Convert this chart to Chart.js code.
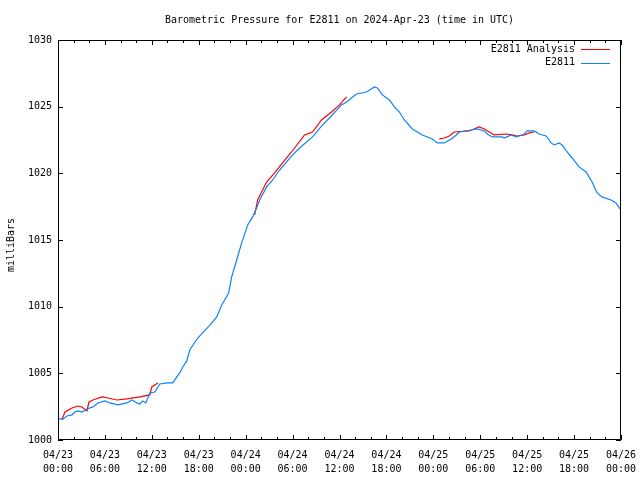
<!DOCTYPE html>
<html>
<head>
<meta charset="utf-8">
<script src="https://cdn.jsdelivr.net/npm/chart.js@4"></script>
<style>
  body { margin: 0; background: #fff; }
  #wrap { width: 640px; height: 480px; }
</style>
</head>
<body>
<div id="wrap"><canvas id="chart" width="640" height="480"></canvas></div>
<script>
// hours since 2024-04-23 00:00 UTC
let stationHours = [0,0.64,1.15,1.79,2.17,2.55,3.06,3.7,4.47,5.11,6.0,6.64,7.66,8.81,9.45,10.09,10.47,10.85,11.23,11.74,
  12.38,13.02,14.04,14.68,15.19,15.57,15.96,16.47,16.85,17.87,19.4,20.3,20.94,21.83,22.21,22.85,23.49,24.26,24.89,25.4,
  25.79,26.68,27.45,28.34,30.0,30.89,32.55,33.83,34.72,36.26,36.9,38.17,39.45,40.47,40.85,41.49,42.38,43.02,43.66,44.3,
  45.32,46.6,47.87,48.51,49.4,50.3,50.94,51.32,52.85,53.62,54.51,54.9,55.53,56.04,56.81,57.06,57.96,58.6,58.98,59.62,
  60.0,60.89,61.53,62.43,63.07,63.45,64.09,64.47,65.11,65.75,66.64,67.53,68.3,68.94,69.57,70.72,71.36,71.87];
let stationPressure = [1001.58,1001.58,1001.8,1001.88,1002.1,1002.18,1002.1,1002.33,1002.48,1002.78,1002.93,1002.78,1002.63,1002.78,1003.0,1002.78,1002.7,1002.93,1002.78,1003.53,
  1003.6,1004.2,1004.28,1004.28,1004.73,1005.03,1005.48,1005.93,1006.75,1007.65,1008.6,1009.23,1010.13,1011.03,1012.23,1013.5,1014.78,1016.13,1016.73,1017.4,
  1018.0,1018.98,1019.5,1020.25,1021.38,1021.9,1022.73,1023.63,1024.15,1025.13,1025.35,1025.95,1026.1,1026.48,1026.4,1025.88,1025.5,1024.98,1024.6,1024.0,
  1023.33,1022.88,1022.58,1022.28,1022.28,1022.58,1022.88,1023.1,1023.25,1023.33,1023.18,1022.95,1022.73,1022.73,1022.73,1022.65,1022.88,1022.73,1022.8,1022.95,
  1023.18,1023.18,1022.95,1022.8,1022.28,1022.13,1022.28,1022.13,1021.6,1021.15,1020.48,1020.1,1019.35,1018.53,1018.23,1018.0,1017.78,1017.33];

let analysisHours = [0.51,0.64,0.89,1.79,2.55,3.06,3.7,3.96,4.47,5.62,6.38,7.53,8.81,10.47,11.74,12.0,12.77,
  19,
  25.15,25.53,26.68,27.7,28.72,29.87,31.53,32.55,33.7,34.98,36.0,36.9,
  42,
  48.77,49.4,50.04,50.68,52.6,53.49,53.87,54.51,55.15,55.79,57.32,58.09,58.72,59.62,60.26,60.89];
let analysisPressure = [1001.5,1001.73,1002.1,1002.4,1002.55,1002.48,1002.18,1002.85,1003.0,1003.23,1003.15,1003.0,1003.08,1003.23,1003.38,1003.98,1004.28,
  null,
  1016.88,1018.0,1019.35,1020.03,1020.78,1021.6,1022.88,1023.1,1024.0,1024.6,1025.13,1025.73,
  null,
  1022.58,1022.65,1022.8,1023.1,1023.18,1023.4,1023.48,1023.33,1023.1,1022.88,1022.95,1022.88,1022.8,1022.88,1023.03,1023.1];

let xTicks = [0, 6, 12, 18, 24, 30, 36, 42, 48, 54, 60, 66, 72];
let yTicks = [1000, 1005, 1010, 1015, 1020, 1025, 1030];

const RED = '#ff0000';
const BLUE = '#0a84f5';

function pts(xs, ys) {
  return xs.map((h, i) => ({ x: h, y: ys[i] }));
}
function pad2(n) { return (n < 10 ? '0' : '') + n; }

Chart.defaults.font.family = "'DejaVu Sans Mono', monospace";
Chart.defaults.font.size = 10;
Chart.defaults.color = '#000';

// box, inward ticks, title, y label, legend
let frame = {
  id: 'frame',
  afterDraw(chart) {
    let ctx = chart.ctx;
    let a = chart.chartArea;
    let xs = chart.scales.x, ys = chart.scales.y;
    ctx.save();
    ctx.strokeStyle = '#000';
    ctx.lineWidth = 1;
    ctx.beginPath();
    ctx.rect(a.left + 0.5, a.top + 0.5, a.right - a.left - 1, a.bottom - a.top - 1);
    for (let h = 0; h <= 72; h += 2) {
      let px = Math.round(xs.getPixelForValue(h)) + 0.5;
      let len = (h % 6 === 0) ? 5 : 3;
      ctx.moveTo(px, a.bottom); ctx.lineTo(px, a.bottom - len);
      ctx.moveTo(px, a.top); ctx.lineTo(px, a.top + len);
    }
    yTicks.forEach(v => {
      let py = Math.round(ys.getPixelForValue(v)) + 0.5;
      ctx.moveTo(a.left, py); ctx.lineTo(a.left + 5, py);
      ctx.moveTo(a.right, py); ctx.lineTo(a.right - 5, py);
    });
    ctx.stroke();

    ctx.fillStyle = '#000';
    ctx.font = "10px 'DejaVu Sans Mono'";
    ctx.textAlign = 'center';
    ctx.textBaseline = 'middle';
    ctx.fillText('Barometric Pressure for E2811 on 2024-Apr-23 (time in UTC)', (a.left + a.right) / 2, 20);

    ctx.save();
    ctx.translate(11, 245);
    ctx.rotate(-Math.PI / 2);
    ctx.fillText('milliBars', 0, 0);
    ctx.restore();

    ctx.textAlign = 'right';
    chart.data.datasets.forEach((ds, i) => {
      let y = 49 + i * 13.5;
      ctx.fillStyle = '#000';
      ctx.fillText(ds.label, 575, y);
      ctx.fillStyle = i === 0 ? RED : BLUE;
      ctx.fillRect(581, Math.round(y), 29, 1);
    });
    ctx.restore();
  }
};

new Chart(document.getElementById('chart'), {
  type: 'line',
  data: {
    datasets: [
      {
        label: 'E2811 Analysis',
        data: pts(analysisHours, analysisPressure),
        borderColor: RED,
        borderWidth: 1.2,
        pointRadius: 0,
        tension: 0,
        spanGaps: false,
        order: 1
      },
      {
        label: 'E2811',
        data: pts(stationHours, stationPressure),
        borderColor: BLUE,
        borderWidth: 1.2,
        pointRadius: 0,
        tension: 0,
        order: 0
      }
    ]
  },
  options: {
    responsive: false,
    animation: false,
    layout: { padding: { top: 40, right: 19, left: 0, bottom: 0 } },
    plugins: {
      legend: { display: false },
      title: { display: false },
      tooltip: { enabled: false }
    },
    scales: {
      x: {
        type: 'linear',
        min: 0,
        max: 72,
        afterFit(s) { s.height = 40; s.paddingLeft = 0; s.paddingRight = 0; },
        afterBuildTicks(s) { s.ticks = xTicks.map(v => ({ value: v })); },
        grid: { display: false, drawTicks: false },
        border: { display: false },
        ticks: {
          autoSkip: false,
          maxRotation: 0,
          padding: 8,
          font: { lineHeight: 1.45 },
          callback(v) {
            let day = 23 + Math.floor(v / 24);
            return ['04/' + pad2(day), pad2(v % 24) + ':00'];
          }
        }
      },
      y: {
        min: 1000,
        max: 1030,
        afterFit(s) { s.width = 58; s.paddingTop = 0; s.paddingBottom = 0; },
        afterBuildTicks(s) { s.ticks = yTicks.map(v => ({ value: v })); },
        grid: { display: false, drawTicks: false },
        border: { display: false },
        ticks: { padding: 6, callback: v => String(v) }
      }
    }
  },
  plugins: [frame]
});
</script>
</body>
</html>
